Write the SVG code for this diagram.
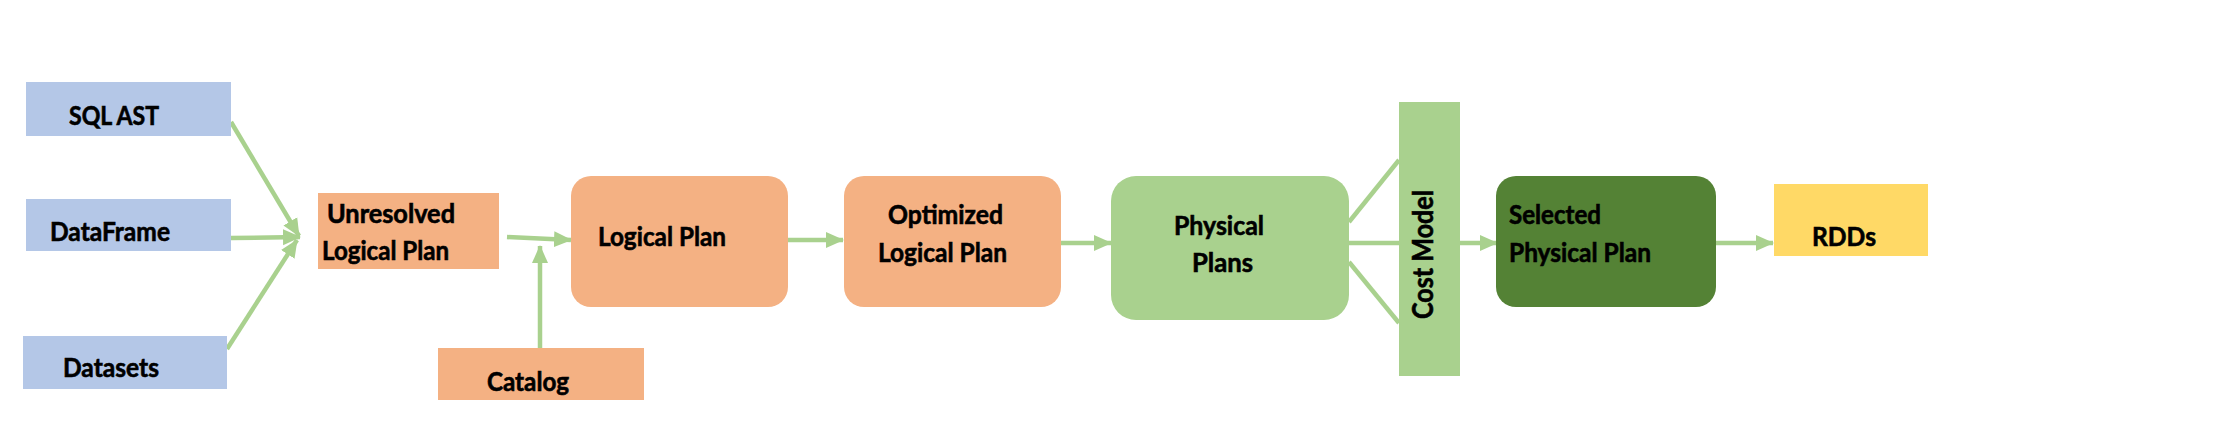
<svg xmlns="http://www.w3.org/2000/svg" width="2236" height="426" viewBox="0 0 2236 426">
  <style>
    .t { font-family: Lato, "Open Sans", "Liberation Sans", sans-serif; font-weight: bold; font-size: 26px; fill: #000; stroke: #000; stroke-width: 0.6px; }
    .blue { fill: #B4C7E7; }
    .orange { fill: #F4B183; }
    .lgreen { fill: #A9D18E; }
    .dgreen { fill: #548235; }
    .yellow { fill: #FFD966; }
    .conn { stroke: #A9D18E; stroke-width: 4.5; fill: none; }
  </style>
  <defs>
    <marker id="ah" markerUnits="userSpaceOnUse" markerWidth="18" markerHeight="18" viewBox="0 0 18 18" refX="17" refY="9" orient="auto">
      <path d="M0,1 L18,9 L0,17 Z" fill="#A9D18E"/>
    </marker>
  </defs>
  <rect width="2236" height="426" fill="#FFFFFF"/>

  <g id="connectors">
    <line class="conn" x1="231" y1="122" x2="299" y2="236" marker-end="url(#ah)"/>
    <line class="conn" x1="231" y1="238" x2="300" y2="237" marker-end="url(#ah)"/>
    <line class="conn" x1="227" y1="349" x2="297" y2="240" marker-end="url(#ah)"/>
    <line class="conn" x1="507" y1="237" x2="571" y2="240" marker-end="url(#ah)"/>
    <line class="conn" x1="540" y1="348" x2="540" y2="246" marker-end="url(#ah)"/>
    <line class="conn" x1="788" y1="240" x2="843" y2="240" marker-end="url(#ah)"/>
    <line class="conn" x1="1061" y1="243" x2="1111" y2="243" marker-end="url(#ah)"/>
    <line class="conn" x1="1349" y1="222" x2="1399" y2="160"/>
    <line class="conn" x1="1349" y1="243" x2="1399" y2="243"/>
    <line class="conn" x1="1349" y1="262" x2="1399" y2="323"/>
    <line class="conn" x1="1460" y1="243" x2="1497" y2="243" marker-end="url(#ah)"/>
    <line class="conn" x1="1716" y1="243" x2="1773" y2="243" marker-end="url(#ah)"/>
  </g>

  <g id="sqlast">
    <rect class="blue" x="26" y="82" width="205" height="54"/>
    <text class="t" x="69" y="125" textLength="90" lengthAdjust="spacingAndGlyphs">SQL AST</text>
  </g>
  <g id="dataframe">
    <rect class="blue" x="26" y="199" width="205" height="52"/>
    <text class="t" x="50" y="241" textLength="120" lengthAdjust="spacingAndGlyphs">DataFrame</text>
  </g>
  <g id="datasets">
    <rect class="blue" x="23" y="336" width="204" height="53"/>
    <text class="t" x="63" y="377" textLength="96" lengthAdjust="spacingAndGlyphs">Datasets</text>
  </g>
  <g id="unresolved">
    <rect class="orange" x="318" y="193" width="181" height="76"/>
    <text class="t" x="327" y="223" textLength="128" lengthAdjust="spacingAndGlyphs">Unresolved</text>
    <text class="t" x="322" y="260" textLength="127" lengthAdjust="spacingAndGlyphs">Logical Plan</text>
  </g>
  <g id="catalog">
    <rect class="orange" x="438" y="348" width="206" height="52"/>
    <text class="t" x="487" y="391" textLength="82" lengthAdjust="spacingAndGlyphs">Catalog</text>
  </g>
  <g id="logicalplan">
    <rect class="orange" x="571" y="176" width="217" height="131" rx="20" ry="20"/>
    <text class="t" x="598" y="246" textLength="128" lengthAdjust="spacingAndGlyphs">Logical Plan</text>
  </g>
  <g id="optimized">
    <rect class="orange" x="844" y="176" width="217" height="131" rx="20" ry="20"/>
    <text class="t" x="888" y="224" textLength="115" lengthAdjust="spacingAndGlyphs">Optimized</text>
    <text class="t" x="878" y="262" textLength="129" lengthAdjust="spacingAndGlyphs">Logical Plan</text>
  </g>
  <g id="physicalplans">
    <rect class="lgreen" x="1111" y="176" width="238" height="144" rx="25" ry="25"/>
    <text class="t" x="1174" y="235" textLength="90" lengthAdjust="spacingAndGlyphs">Physical</text>
    <text class="t" x="1192" y="272" textLength="61" lengthAdjust="spacingAndGlyphs">Plans</text>
  </g>
  <g id="costmodel">
    <rect class="lgreen" x="1399" y="102" width="61" height="274"/>
    <text class="t" style="font-size:29px" transform="translate(1433,319) rotate(-90)" x="0" y="0" textLength="129" lengthAdjust="spacingAndGlyphs">Cost Model</text>
  </g>
  <g id="selected">
    <rect class="dgreen" x="1496" y="176" width="220" height="131" rx="20" ry="20"/>
    <text class="t" x="1509" y="224" textLength="92" lengthAdjust="spacingAndGlyphs">Selected</text>
    <text class="t" x="1509" y="262" textLength="142" lengthAdjust="spacingAndGlyphs">Physical Plan</text>
  </g>
  <g id="rdds">
    <rect class="yellow" x="1774" y="184" width="154" height="72"/>
    <text class="t" x="1812" y="246" textLength="64" lengthAdjust="spacingAndGlyphs">RDDs</text>
  </g>
</svg>
